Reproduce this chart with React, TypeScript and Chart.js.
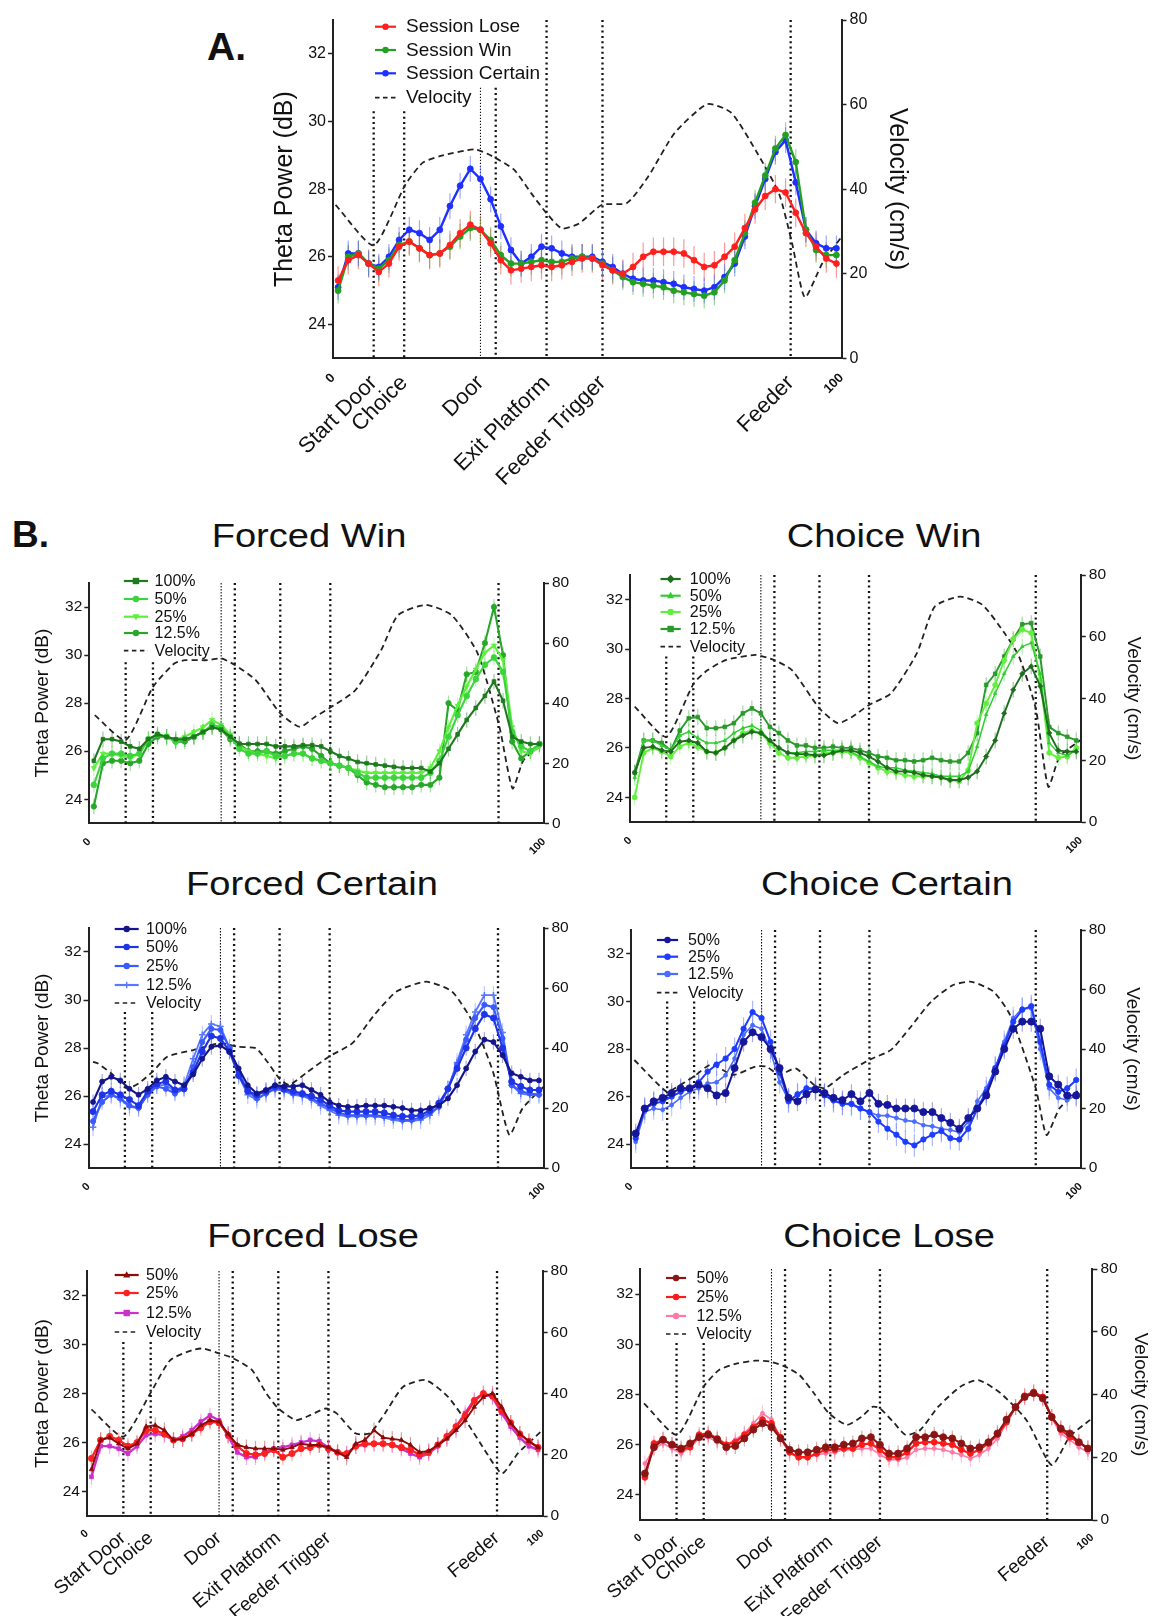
import React, { useEffect, useRef } from "react";
import { Chart, registerables } from "chart.js";

Chart.register(...registerables);

const FONT = '"Liberation Sans", Arial, Helvetica, sans-serif';
Chart.defaults.font.family = FONT;
Chart.defaults.color = "#111";

// Percent of the trial path at which theta power is averaged
const pathPct = [1, 3, 5, 7, 9, 11, 13, 15, 17, 19, 21, 23, 25, 27, 29, 31, 33, 35, 37, 39, 41, 43, 45, 47, 49, 51, 53, 55, 57, 59, 61, 63, 65, 67, 69, 71, 73, 75, 77, 79, 81, 83, 85, 87, 89, 91, 93, 95, 97, 99];

// Maze landmarks along the path (percent)
const landmarkPct = [8, 14, 29, 32, 42, 53, 90];
const landmarkThin = [false, false, true, false, false, false, false];
const landmarkTicks = [0, 8, 14, 29, 42, 53, 90, 100];
const landmarkTickLabels = ["0", "Start Door", "Choice", "Door", "Exit Platform", "Feeder Trigger", "Feeder", "100"];
const bareTicks = [0, 100];
const bareTickLabels = ["0", "100"];

const thetaTicks = [24, 26, 28, 30, 32];
const velocityTicks = [0, 20, 40, 60, 80];

// Upper end (dB) of each landmark line, per panel
const landmarkTopA = [30.3, 30.3, 31.0, 31.0, 33, 33, 33];
const landmarkTopForcedWin = [29.7, 29.7, 33, 33, 33, 33, 33];
const landmarkTopChoiceWin = [29.7, 29.7, 33, 33, 33, 33, 33];
const landmarkTopForcedCertain = [29.5, 29.5, 33, 33, 33, 33, 33];
const landmarkTopChoiceCertain = [30.0, 30.0, 33, 33, 33, 33, 33];
const landmarkTopForcedLose = [30.1, 30.1, 33, 33, 33, 33, 33];
const landmarkTopChoiceLose = [30.05, 30.05, 33, 33, 33, 33, 33];

// ---- A. Session averages (theta power, dB) ----
const sessionLose = [25.3, 25.9, 26.05, 25.8, 25.55, 25.8, 26.3, 26.45, 26.25, 26.05, 26.1, 26.35, 26.7, 26.95, 26.8, 26.4, 25.9, 25.6, 25.65, 25.7, 25.75, 25.7, 25.75, 25.85, 25.95, 25.95, 25.75, 25.6, 25.5, 25.7, 26.0, 26.15, 26.15, 26.15, 26.1, 25.9, 25.7, 25.75, 26.0, 26.3, 26.85, 27.4, 27.8, 28.0, 27.9, 27.3, 26.7, 26.3, 25.95, 25.8];
const sessionWin = [25.0, 26.0, 26.1, 25.8, 25.65, 25.9, 26.35, 26.45, 26.25, 26.05, 26.1, 26.3, 26.6, 26.85, 26.8, 26.5, 26.05, 25.8, 25.8, 25.85, 25.9, 25.85, 25.85, 25.95, 26.0, 25.95, 25.8, 25.6, 25.4, 25.25, 25.2, 25.15, 25.1, 25.0, 24.95, 24.9, 24.85, 24.95, 25.3, 25.9, 26.7, 27.6, 28.4, 29.2, 29.6, 28.8, 26.8, 26.2, 26.05, 26.05];
const sessionCertain = [25.1, 26.1, 26.1, 25.8, 25.7, 26.0, 26.5, 26.8, 26.7, 26.5, 26.8, 27.5, 28.1, 28.6, 28.3, 27.7, 26.9, 26.2, 25.8, 26.0, 26.3, 26.25, 26.1, 26.0, 26.0, 26.0, 25.85, 25.7, 25.5, 25.35, 25.3, 25.3, 25.25, 25.2, 25.1, 25.05, 25.0, 25.1, 25.4, 25.8, 26.6, 27.5, 28.3, 29.1, 29.45, 28.2, 26.8, 26.4, 26.25, 26.25];
const velPctA = [0.5, 8, 14.2, 17.6, 21, 27.9, 31.3, 35.6, 39, 42, 45, 48.4, 52.9, 57.8, 62, 67.2, 73.6, 78.3, 83.4, 87.7, 90.3, 92.8, 96.2, 100];
const velA = [36.3, 26.7, 41, 46.2, 47.8, 49.4, 47.8, 44.6, 39, 34.3, 30.7, 31.9, 36.3, 36.7, 43, 53.3, 60.1, 58.1, 48.6, 39, 27.1, 14.4, 22.4, 28.7];

// ---- Forced Win ----
const forcedWin100 = [25.6, 26.5, 26.5, 26.4, 26.2, 26.1, 26.5, 26.7, 26.6, 26.5, 26.5, 26.6, 26.8, 27.0, 26.9, 26.6, 26.3, 26.3, 26.3, 26.3, 26.2, 26.2, 26.2, 26.25, 26.25, 26.2, 26.0, 25.8, 25.7, 25.55, 25.5, 25.45, 25.4, 25.35, 25.3, 25.3, 25.3, 25.15, 25.5, 26.1, 26.7, 27.3, 27.8, 28.3, 28.9, 28.1, 26.6, 26.4, 26.3, 26.3];
const forcedWin50 = [24.6, 25.7, 25.9, 25.9, 25.8, 25.9, 26.5, 26.7, 26.6, 26.4, 26.5, 26.6, 26.8, 27.1, 27.0, 26.6, 26.1, 25.9, 25.9, 26.0, 25.8, 25.8, 25.9, 25.9, 25.7, 25.6, 25.5, 25.4, 25.3, 25.1, 24.9, 24.9, 24.9, 24.9, 24.9, 24.9, 24.9, 25.1, 25.6, 26.6, 27.5, 28.3, 29.0, 29.6, 29.9, 29.3, 26.8, 26.2, 26.0, 26.3];
const forcedWin25 = [25.3, 25.9, 25.9, 25.8, 25.7, 25.9, 26.5, 26.7, 26.6, 26.5, 26.6, 26.8, 27.0, 27.3, 27.1, 26.7, 26.2, 26.0, 25.9, 25.8, 25.7, 25.8, 25.9, 25.9, 25.7, 25.6, 25.5, 25.4, 25.3, 25.2, 25.1, 25.1, 25.1, 25.1, 25.1, 25.1, 25.1, 25.3, 26.0, 27.0, 27.9, 28.7, 29.4, 30.1, 30.4, 29.8, 27.0, 26.0, 25.9, 26.2];
const forcedWin12 = [23.7, 25.5, 25.6, 25.6, 25.5, 25.6, 26.3, 26.6, 26.6, 26.4, 26.4, 26.6, 26.8, 27.0, 26.9, 26.5, 26.3, 26.0, 26.0, 26.0, 25.9, 26.0, 26.1, 26.2, 26.1, 25.8, 25.5, 25.4, 25.3, 25.0, 24.7, 24.6, 24.5, 24.5, 24.5, 24.5, 24.6, 24.6, 24.9, 28.0, 27.7, 29.2, 29.3, 30.5, 32.0, 30.0, 26.4, 25.7, 26.0, 26.3];
const velPctForcedWin = [1.2, 8, 14, 18.7, 21.1, 26, 29, 32, 36.6, 42, 46.3, 49.6, 53.1, 58.5, 64.2, 67.9, 74, 79.7, 85.4, 90.2, 93.1, 95.5, 100];
const velForcedWin = [36, 27.7, 45.4, 53.2, 54.3, 54.3, 54.9, 52.7, 47.7, 36.6, 32.1, 35.4, 38.6, 44.3, 57.7, 69.3, 72.7, 69.3, 56.6, 32.1, 11.6, 21, 26.6];

// ---- Choice Win ----
const choiceWin100 = [25.0, 26.0, 26.05, 25.9, 25.85, 26.25, 26.3, 26.2, 25.85, 25.8, 26.0, 26.3, 26.5, 26.65, 26.6, 26.3, 26.0, 25.8, 25.75, 25.75, 25.7, 25.7, 25.8, 25.9, 25.9, 25.8, 25.65, 25.45, 25.2, 25.05, 25.05, 25.0, 24.9, 24.85, 24.8, 24.7, 24.7, 24.8, 25.05, 25.65, 26.3, 27.4, 28.35, 29.0, 29.3, 28.5, 26.6, 25.9, 25.85, 25.85];
const choiceWin50 = [24.8, 26.3, 26.3, 26.1, 25.9, 26.5, 26.65, 26.4, 26.2, 26.2, 26.3, 26.6, 26.8, 26.9, 26.7, 26.3, 26.0, 25.8, 25.8, 25.85, 25.85, 25.9, 25.9, 25.9, 25.85, 25.65, 25.45, 25.25, 25.2, 25.2, 25.1, 25.05, 25.0, 24.95, 24.85, 24.85, 24.85, 25.05, 26.05, 27.35, 28.2, 29.0, 29.7, 30.1, 30.25, 29.0, 26.2, 25.8, 25.7, 25.9];
const choiceWin25 = [24.0, 25.8, 26.0, 25.85, 25.65, 26.05, 26.2, 26.05, 25.85, 25.8, 26.0, 26.3, 26.6, 26.7, 26.6, 26.2, 25.8, 25.6, 25.6, 25.65, 25.7, 25.8, 25.8, 25.85, 25.8, 25.6, 25.4, 25.2, 25.05, 25.0, 24.9, 24.85, 24.85, 24.85, 24.8, 24.7, 24.65, 25.1, 27.0, 27.8, 28.55, 29.55, 30.4, 30.8, 30.65, 28.75, 25.8, 25.6, 25.65, 26.0];
const choiceWin12 = [25.0, 26.3, 26.3, 26.2, 25.9, 26.7, 27.2, 27.25, 26.8, 26.8, 26.85, 27.0, 27.4, 27.6, 27.4, 26.85, 26.6, 26.3, 26.1, 26.1, 26.0, 26.0, 26.05, 26.0, 26.0, 25.9, 25.8, 25.65, 25.6, 25.5, 25.5, 25.45, 25.5, 25.6, 25.5, 25.45, 25.45, 25.8, 26.6, 28.55, 29.0, 29.7, 30.4, 31.0, 31.05, 29.7, 26.85, 26.6, 26.45, 26.3];
const velPctChoiceWin = [1, 8, 14.1, 17.2, 21.3, 27.8, 31.9, 35.9, 42, 46.1, 49.3, 53, 57.9, 63.6, 67.6, 73.3, 78.2, 83.1, 86.3, 90, 92.8, 95.3, 100];
const velChoiceWin = [37.4, 27.6, 44.9, 49.2, 52.5, 54.1, 52.5, 49.2, 36.8, 32.0, 34.1, 37.9, 41.7, 54.6, 69.8, 73.0, 70.3, 61.1, 53.6, 36.8, 11.4, 21.2, 26.6];

// ---- Forced Certain ----
const forcedCertain100 = [25.75, 26.6, 26.8, 26.65, 26.3, 26.05, 26.3, 26.65, 26.8, 26.6, 26.45, 26.9, 27.55, 28.05, 28.1, 27.85, 27.15, 26.45, 26.1, 26.25, 26.45, 26.4, 26.4, 26.45, 26.25, 26.05, 25.75, 25.6, 25.55, 25.55, 25.6, 25.6, 25.6, 25.55, 25.5, 25.4, 25.4, 25.5, 25.6, 25.9, 26.45, 27.15, 27.85, 28.35, 28.25, 27.7, 26.95, 26.8, 26.65, 26.65];
const forcedCertain50 = [25.35, 26.05, 26.2, 26.05, 25.85, 25.6, 26.2, 26.5, 26.6, 26.25, 26.3, 27.0, 27.85, 28.5, 28.4, 27.85, 26.85, 26.2, 26.05, 26.2, 26.4, 26.3, 26.2, 26.1, 26.0, 25.85, 25.6, 25.4, 25.35, 25.35, 25.35, 25.35, 25.3, 25.2, 25.15, 25.15, 25.2, 25.4, 25.7, 26.3, 27.15, 28.0, 28.8, 29.4, 29.25, 28.0, 26.6, 26.4, 26.25, 26.25];
const forcedCertain25 = [24.95, 25.75, 26.05, 25.9, 25.6, 25.5, 26.05, 26.4, 26.3, 26.1, 26.3, 27.2, 28.25, 28.8, 28.75, 28.0, 27.0, 26.2, 25.9, 26.1, 26.3, 26.25, 26.1, 26.05, 25.9, 25.7, 25.5, 25.3, 25.2, 25.2, 25.2, 25.2, 25.15, 25.1, 25.0, 25.0, 25.1, 25.3, 25.55, 26.3, 27.3, 28.35, 29.25, 29.8, 29.7, 28.4, 26.45, 26.2, 26.1, 26.05];
const forcedCertain12 = [24.7, 25.95, 26.05, 25.85, 25.55, 25.5, 26.1, 26.45, 26.45, 26.2, 26.45, 27.55, 28.55, 29.0, 28.9, 28.0, 26.85, 26.05, 25.85, 26.1, 26.3, 26.2, 26.05, 26.0, 25.85, 25.6, 25.4, 25.2, 25.15, 25.15, 25.15, 25.15, 25.1, 25.0, 24.95, 24.95, 25.0, 25.2, 25.55, 26.3, 27.4, 28.55, 29.5, 30.2, 30.2, 28.65, 26.45, 26.1, 26.05, 26.05];
const velPctForcedCertain = [1, 2, 5.1, 8.4, 11, 14.1, 17.3, 23, 29, 32.8, 36.8, 39.3, 41.9, 44.1, 48.2, 52.8, 58, 62.8, 67.7, 74.2, 79.9, 84.8, 88.9, 92.5, 95.4, 100];
const velForcedCertain = [35.4, 34.9, 31.4, 26.6, 28.2, 32.1, 37.1, 39.3, 41.6, 40.4, 39.9, 35.4, 29.9, 27.7, 32.1, 37.1, 41.6, 51, 58.8, 62.1, 58.8, 47.7, 32.1, 11, 19.9, 27.1];

// ---- Choice Certain ----
const choiceCertain50 = [24.45, 25.5, 25.8, 25.95, 26.15, 26.35, 26.35, 26.5, 26.35, 26.05, 26.15, 27.2, 28.3, 28.7, 28.5, 28.0, 27.2, 25.95, 25.8, 26.1, 26.3, 26.15, 25.95, 25.85, 26.1, 25.8, 26.15, 25.7, 25.65, 25.5, 25.5, 25.5, 25.35, 25.35, 25.1, 24.9, 24.65, 25.1, 25.5, 26.05, 27.05, 28.0, 28.85, 29.15, 29.15, 28.85, 26.85, 26.5, 26.05, 26.05];
const choiceCertain25 = [24.25, 25.5, 25.7, 25.8, 26.0, 26.2, 26.35, 26.6, 27.05, 27.35, 27.6, 28.0, 28.85, 29.55, 29.3, 28.3, 27.05, 25.8, 26.1, 26.35, 26.35, 26.05, 25.85, 25.7, 25.7, 25.5, 25.35, 24.95, 24.65, 24.4, 24.1, 23.95, 24.2, 24.4, 24.55, 24.25, 24.2, 24.65, 25.5, 26.2, 27.2, 28.15, 29.15, 29.65, 29.8, 28.3, 26.5, 26.2, 26.35, 26.7];
const choiceCertain12 = [24.1, 25.35, 25.5, 25.45, 25.65, 25.95, 26.2, 26.35, 26.55, 26.6, 26.9, 27.6, 28.6, 29.0, 28.85, 27.9, 26.6, 25.85, 26.05, 26.3, 26.3, 26.05, 25.8, 25.7, 25.65, 25.5, 25.35, 25.2, 25.2, 25.1, 25.0, 24.95, 24.8, 24.75, 24.65, 24.6, 24.5, 24.95, 25.8, 26.35, 27.2, 28.3, 29.3, 29.7, 29.7, 28.0, 26.35, 25.95, 25.85, 26.05];
const velPctChoiceCertain = [0.7, 7.8, 9.7, 13.9, 17.8, 22.7, 27.6, 30.1, 32.9, 36.6, 40.7, 43.1, 47.2, 52.9, 57.8, 61.9, 66.7, 71.6, 75.7, 80.6, 84.3, 90, 92.4, 95.3, 100];
const velChoiceCertain = [36.3, 25.7, 26.8, 30.7, 34.8, 31.3, 34.1, 34.1, 31.3, 33.5, 27.9, 26.8, 31.3, 36.3, 39.7, 46.9, 55.9, 61.5, 62.6, 59.3, 51.4, 26.8, 11.1, 20.1, 26.8];

// ---- Forced Lose ----
const forcedLose50 = [24.9, 26.1, 26.2, 25.95, 25.75, 25.95, 26.65, 26.7, 26.5, 26.1, 26.15, 26.35, 26.7, 26.9, 26.85, 26.35, 25.9, 25.8, 25.75, 25.75, 25.75, 25.7, 25.8, 25.95, 25.9, 25.9, 25.8, 25.6, 25.4, 25.95, 26.1, 26.5, 26.2, 26.15, 26.1, 25.9, 25.6, 25.65, 25.9, 26.15, 26.5, 26.9, 27.45, 27.85, 28.0, 27.45, 26.8, 26.35, 26.05, 25.8];
const forcedLose25 = [25.35, 26.1, 26.25, 26.1, 25.85, 26.0, 26.5, 26.5, 26.35, 26.1, 26.15, 26.35, 26.6, 26.85, 26.8, 26.3, 25.85, 25.55, 25.5, 25.55, 25.7, 25.4, 25.55, 25.75, 25.8, 25.9, 25.75, 25.6, 25.55, 25.85, 25.95, 25.95, 25.95, 25.9, 25.8, 25.7, 25.5, 25.6, 25.9, 26.25, 26.65, 27.1, 27.7, 28.0, 27.9, 27.3, 26.8, 26.35, 26.05, 25.8];
const forcedLose12 = [24.6, 25.85, 25.85, 25.75, 25.55, 25.85, 26.3, 26.35, 26.3, 26.1, 26.25, 26.5, 26.85, 27.1, 26.9, 26.25, 25.6, 25.4, 25.4, 25.6, 25.75, 25.8, 25.9, 26.0, 26.1, 26.05, 25.8, 25.6, 25.55, 25.85, 25.9, 25.95, 25.95, 25.9, 25.75, 25.55, 25.4, 25.55, 25.85, 26.2, 26.65, 27.2, 27.75, 28.0, 27.85, 27.2, 26.65, 26.2, 25.85, 25.7];
const velPctForcedLose = [1, 8, 13.9, 18.3, 23.2, 25.6, 29, 32.1, 36.2, 39.4, 42, 45.9, 49.1, 52.4, 54.8, 58.9, 62.1, 65.4, 69.4, 74.3, 79.2, 84, 87.3, 91.1, 94.6, 100];
const velForcedLose = [34.8, 25.9, 40, 50.9, 54.2, 54.7, 53.1, 51.5, 47.7, 40, 35.1, 31.3, 33, 35.1, 33.5, 27, 27, 33.5, 42.2, 44.4, 39, 29.2, 21.5, 13.9, 20.5, 28.1];

// ---- Choice Lose ----
const choiceLose50 = [24.85, 25.9, 26.2, 26.0, 25.85, 26.05, 26.3, 26.4, 26.2, 25.9, 25.95, 26.25, 26.6, 26.85, 26.7, 26.25, 25.8, 25.7, 25.7, 25.8, 25.9, 25.9, 26.0, 26.05, 26.25, 26.3, 26.0, 25.65, 25.65, 25.85, 26.3, 26.3, 26.4, 26.3, 26.25, 26.05, 25.85, 25.9, 26.1, 26.45, 27.0, 27.5, 27.9, 28.05, 27.85, 27.1, 26.65, 26.45, 26.1, 25.85];
const choiceLose25 = [24.7, 26.05, 26.2, 26.0, 25.8, 25.9, 26.4, 26.45, 26.25, 26.0, 26.1, 26.4, 26.7, 27.0, 26.85, 26.3, 25.7, 25.5, 25.5, 25.65, 25.8, 25.8, 25.85, 25.85, 26.0, 26.05, 25.8, 25.5, 25.5, 25.7, 26.05, 26.1, 26.1, 26.05, 26.0, 25.8, 25.65, 25.8, 26.05, 26.4, 26.9, 27.5, 27.95, 28.1, 27.9, 27.1, 26.6, 26.3, 26.1, 25.85];
const choiceLose12 = [25.25, 25.85, 26.05, 25.85, 25.65, 25.9, 26.25, 26.3, 26.1, 26.0, 26.2, 26.45, 26.85, 27.25, 27.0, 26.25, 25.65, 25.5, 25.5, 25.6, 25.65, 25.7, 25.8, 25.8, 25.85, 25.85, 25.6, 25.4, 25.4, 25.5, 25.8, 25.85, 25.85, 25.8, 25.7, 25.6, 25.45, 25.6, 25.85, 26.25, 26.85, 27.5, 27.9, 28.05, 27.85, 27.05, 26.45, 26.2, 25.9, 25.7];
const velPctChoiceLose = [0.8, 8.1, 14, 17.4, 21.4, 25.5, 28.7, 32, 35.2, 38.4, 41.7, 45.7, 48.9, 51.4, 53, 56.2, 58.7, 61.9, 65.9, 70.8, 74.8, 79.7, 85.4, 91, 95, 99.5];
const velChoiceLose = [37.2, 27.1, 42.5, 47.8, 49.9, 50.8, 50.5, 48.9, 46.2, 40.4, 34, 30.3, 32.9, 36.1, 35.6, 30.8, 27.1, 28.7, 36.1, 42.5, 44.6, 40.4, 31.9, 17.5, 26.6, 31.9];

type Series = {
  label: string;
  values: number[];
  color: string;
  err: string;
  marker: string;
  rot?: number;
  radius: number;
  width: number;
  sem: number;
};

type Panel = {
  id: string;
  title?: string;
  titleCx?: number;
  titleBaseline?: number;
  plot: { l: number; r: number; t: number; b: number };
  leftTitleCx?: number;
  rightTitleCx?: number;
  axisTitleSize: number;
  tickSize: number;
  legendSize: number;
  legendX: number[];
  legendRows: number[];
  full: boolean;
  xLabelSize: number;
  xRot: number;
  endTickSize: number;
  xAxisH: number;
  xPad: number;
  series: Series[];
  velPct: number[];
  vel: number[];
  landmarkTop: number[];
};

const s = (label: string, values: number[], color: string, err: string, marker: string, radius: number, width: number, sem: number, rot = 0): Series => ({ label, values, color, err, marker, radius, width, sem, rot });

const panels: Panel[] = [
  {
    id: "A",
    plot: { l: 333, r: 841.5, t: 20, b: 358.3 },
    leftTitleCx: 285, rightTitleCx: 897, axisTitleSize: 25,
    tickSize: 16, legendSize: 19, legendX: [42, 63, 73], legendRows: [6.7, 30, 53.3, 77.7],
    full: true, xLabelSize: 22, xRot: 45, endTickSize: 13, xAxisH: 150, xPad: 4,
    series: [
      s("Session Lose", sessionLose, "#ff1f1f", "rgba(255,70,70,0.55)", "circle", 3, 2.4, 0.42),
      s("Session Win", sessionWin, "#23a023", "rgba(60,175,60,0.5)", "circle", 3, 2.4, 0.38),
      s("Session Certain", sessionCertain, "#1f2fff", "rgba(80,100,255,0.55)", "circle", 3, 2.4, 0.38),
    ],
    velPct: velPctA, vel: velA, landmarkTop: landmarkTopA,
  },
  {
    id: "FW", title: "Forced Win", titleCx: 309, titleBaseline: 546.7,
    plot: { l: 89.3, r: 544, t: 583, b: 823.3 },
    leftTitleCx: 42.5, axisTitleSize: 19,
    tickSize: 15.5, legendSize: 16, legendX: [34.6, 58.7, 65.3], legendRows: [-2, 16, 33.7, 50, 67.7],
    full: false, xLabelSize: 19, xRot: 45, endTickSize: 11, xAxisH: 32, xPad: 4,
    series: [
      s("100%", forcedWin100, "#1f7a1f", "rgba(40,130,40,0.45)", "rect", 2.6, 2.1, 0.32),
      s("50%", forcedWin50, "#3cd43c", "rgba(90,220,90,0.45)", "circle", 2.9, 2.1, 0.32),
      s("25%", forcedWin25, "#5cf03c", "rgba(120,240,90,0.45)", "triangle", 2.9, 2.1, 0.32, 180),
      s("12.5%", forcedWin12, "#28a828", "rgba(60,170,60,0.45)", "circle", 2.7, 2.1, 0.32),
    ],
    velPct: velPctForcedWin, vel: velForcedWin, landmarkTop: landmarkTopForcedWin,
  },
  {
    id: "CW", title: "Choice Win", titleCx: 884, titleBaseline: 546.7,
    plot: { l: 630.2, r: 1080.8, t: 575, b: 822 },
    rightTitleCx: 1133.5, axisTitleSize: 19,
    tickSize: 15.5, legendSize: 16, legendX: [30.3, 50.5, 59.6], legendRows: [4, 20.7, 37, 54, 71.7],
    full: false, xLabelSize: 19, xRot: 45, endTickSize: 11, xAxisH: 32, xPad: 4,
    series: [
      s("100%", choiceWin100, "#1e6e1e", "rgba(40,120,40,0.45)", "rectRot", 2.6, 1.9, 0.32),
      s("50%", choiceWin50, "#33cc33", "rgba(90,210,90,0.45)", "triangle", 2, 1.5, 0.32),
      s("25%", choiceWin25, "#62ee3e", "rgba(120,240,90,0.45)", "circle", 2.5, 1.9, 0.32),
      s("12.5%", choiceWin12, "#2a9a2a", "rgba(60,160,60,0.45)", "rect", 2.6, 1.9, 0.32),
    ],
    velPct: velPctChoiceWin, vel: velChoiceWin, landmarkTop: landmarkTopChoiceWin,
  },
  {
    id: "FC", title: "Forced Certain", titleCx: 311.6, titleBaseline: 895,
    plot: { l: 88.5, r: 543.5, t: 928, b: 1168 },
    leftTitleCx: 43, axisTitleSize: 19,
    tickSize: 15.5, legendSize: 16, legendX: [26.2, 50.2, 57.6], legendRows: [1, 19, 38, 57, 75],
    full: false, xLabelSize: 19, xRot: 45, endTickSize: 11, xAxisH: 32, xPad: 4,
    series: [
      s("100%", forcedCertain100, "#14148c", "rgba(40,40,160,0.4)", "circle", 2.5, 2.1, 0.32),
      s("50%", forcedCertain50, "#1e34e6", "rgba(60,80,235,0.4)", "circle", 3.1, 2.1, 0.32),
      s("25%", forcedCertain25, "#3a5aff", "rgba(90,110,255,0.45)", "circle", 2.6, 2.1, 0.32),
      s("12.5%", forcedCertain12, "#5a78ff", "rgba(110,135,255,0.45)", "cross", 3.3, 1.8, 0.38),
    ],
    velPct: velPctForcedCertain, vel: velForcedCertain, landmarkTop: landmarkTopForcedCertain,
  },
  {
    id: "CC", title: "Choice Certain", titleCx: 887, titleBaseline: 895,
    plot: { l: 631.2, r: 1080.7, t: 930, b: 1168 },
    rightTitleCx: 1132, axisTitleSize: 19,
    tickSize: 15.5, legendSize: 16, legendX: [25.7, 46.9, 56.8], legendRows: [10, 26.7, 44, 62.7],
    full: false, xLabelSize: 19, xRot: 45, endTickSize: 11, xAxisH: 32, xPad: 4,
    series: [
      s("50%", choiceCertain50, "#16169a", "rgba(50,50,170,0.4)", "circle", 3.6, 2, 0.42),
      s("25%", choiceCertain25, "#1e3cff", "rgba(70,95,255,0.45)", "circle", 2.7, 2, 0.48),
      s("12.5%", choiceCertain12, "#4a6cff", "rgba(110,135,255,0.45)", "circle", 2, 1.6, 0.48),
    ],
    velPct: velPctChoiceCertain, vel: velChoiceCertain, landmarkTop: landmarkTopChoiceCertain,
  },
  {
    id: "FL", title: "Forced Lose", titleCx: 312.7, titleBaseline: 1246.7,
    plot: { l: 86.9, r: 542.6, t: 1271, b: 1516 },
    leftTitleCx: 42.5, axisTitleSize: 19,
    tickSize: 15.5, legendSize: 16, legendX: [27.8, 51.8, 59.2], legendRows: [4, 22, 42, 61],
    full: true, xLabelSize: 19, xRot: 40, endTickSize: 11, xAxisH: 100, xPad: 3,
    series: [
      s("50%", forcedLose50, "#8b0a0a", "rgba(150,30,30,0.4)", "triangle", 2.6, 1.9, 0.32),
      s("25%", forcedLose25, "#ff2020", "rgba(255,80,80,0.45)", "circle", 3.1, 2.3, 0.32),
      s("12.5%", forcedLose12, "#cc30cc", "rgba(220,90,220,0.45)", "rect", 2.7, 2.3, 0.32),
    ],
    velPct: velPctForcedLose, vel: velForcedLose, landmarkTop: landmarkTopForcedLose,
  },
  {
    id: "CL", title: "Choice Lose", titleCx: 889, titleBaseline: 1246.7,
    plot: { l: 640.4, r: 1092.4, t: 1269, b: 1520 },
    rightTitleCx: 1140, axisTitleSize: 19,
    tickSize: 15.5, legendSize: 16, legendX: [25.6, 45.7, 56], legendRows: [9, 28, 47, 65],
    full: true, xLabelSize: 19, xRot: 40, endTickSize: 11, xAxisH: 100, xPad: 3,
    series: [
      s("50%", choiceLose50, "#8b1515", "rgba(150,40,40,0.4)", "circle", 3.5, 2.1, 0.32),
      s("25%", choiceLose25, "#ff1a1a", "rgba(255,80,80,0.45)", "circle", 3, 2.3, 0.32),
      s("12.5%", choiceLose12, "#ff7aa8", "rgba(255,140,180,0.5)", "circle", 2, 1.6, 0.32),
    ],
    velPct: velPctChoiceLose, vel: velChoiceLose, landmarkTop: landmarkTopChoiceLose,
  },
];

function geometry(p: Panel) {
  const padTop = 14;
  const off = p.axisTitleSize * 0.6 + 4;
  const wantLeft = p.leftTitleCx !== undefined ? p.leftTitleCx - off : p.plot.l - 40;
  const wantRight = p.rightTitleCx !== undefined ? p.rightTitleCx + off : p.plot.r + 40;
  const left = Math.floor(wantLeft);
  const right = Math.ceil(wantRight);
  const top = Math.floor(p.plot.t - padTop);
  const bottom = Math.ceil(p.plot.b + p.xAxisH);
  return {
    left, top, width: right - left, height: bottom - top,
    leftW: p.plot.l - left, rightW: right - p.plot.r,
    padTop: p.plot.t - top, xAxisH: bottom - p.plot.b,
  };
}

function drawMarker(ctx: CanvasRenderingContext2D, style: string, x: number, y: number, r: number, color: string, rot = 0) {
  ctx.save();
  ctx.fillStyle = color;
  ctx.strokeStyle = color;
  ctx.lineWidth = 1.4;
  ctx.setLineDash([]);
  ctx.beginPath();
  if (style === "rect") {
    ctx.rect(x - r, y - r, 2 * r, 2 * r);
    ctx.fill();
  } else if (style === "rectRot") {
    ctx.moveTo(x, y - r * 1.3); ctx.lineTo(x + r * 1.3, y); ctx.lineTo(x, y + r * 1.3); ctx.lineTo(x - r * 1.3, y); ctx.closePath();
    ctx.fill();
  } else if (style === "triangle") {
    const d = rot === 180 ? -1 : 1;
    ctx.moveTo(x, y - d * r * 1.2); ctx.lineTo(x + r * 1.1, y + d * r * 0.8); ctx.lineTo(x - r * 1.1, y + d * r * 0.8); ctx.closePath();
    ctx.fill();
  } else if (style === "cross") {
    ctx.moveTo(x - r, y); ctx.lineTo(x + r, y); ctx.moveTo(x, y - r); ctx.lineTo(x, y + r);
    ctx.stroke();
  } else {
    ctx.arc(x, y, r, 0, Math.PI * 2);
    ctx.fill();
  }
  ctx.restore();
}

function extrasPlugin(p: Panel) {
  return {
    id: "extras" + p.id,
    beforeDatasetsDraw(chart: any) {
      const { ctx, chartArea, scales } = chart;
      const xs = scales.x;
      const ys = scales.y;
      ctx.save();
      // landmark lines
      landmarkPct.forEach((pct, i) => {
        const px = xs.getPixelForValue(pct);
        const top = ys.getPixelForValue(p.landmarkTop[i]);
        ctx.beginPath();
        ctx.strokeStyle = "#111";
        if (landmarkThin[i]) {
          ctx.lineWidth = 1.1;
          ctx.setLineDash([1.4, 1.6]);
        } else {
          ctx.lineWidth = 2.3;
          ctx.setLineDash([2, 3.3]);
        }
        ctx.moveTo(px, top);
        ctx.lineTo(px, chartArea.bottom);
        ctx.stroke();
      });
      // SEM error bars
      ctx.setLineDash([]);
      chart.data.datasets.forEach((ds: any) => {
        if (!ds.sem) return;
        ctx.strokeStyle = ds.errColor;
        ctx.lineWidth = 1.2;
        ctx.beginPath();
        ds.data.forEach((pt: any) => {
          const px = xs.getPixelForValue(pt.x);
          ctx.moveTo(px, ys.getPixelForValue(pt.y + ds.sem));
          ctx.lineTo(px, ys.getPixelForValue(pt.y - ds.sem));
        });
        ctx.stroke();
      });
      ctx.restore();
    },
    afterDatasetsDraw(chart: any) {
      const { ctx, chartArea } = chart;
      const L = chartArea.left;
      const T = chartArea.top;
      const [x0, x1, tx] = p.legendX;
      const items = [
        ...p.series.map((se) => ({ label: se.label, color: se.color, marker: se.marker, rot: se.rot || 0, dash: false })),
        { label: "Velocity", color: "#222", marker: "", rot: 0, dash: true },
      ];
      items.forEach((it, i) => {
        const y = T + p.legendRows[i];
        ctx.save();
        ctx.strokeStyle = it.color;
        ctx.lineWidth = it.dash ? 1.7 : 2.2;
        ctx.setLineDash(it.dash ? [4.5, 3.5] : []);
        ctx.beginPath();
        ctx.moveTo(L + x0, y);
        ctx.lineTo(L + x1, y);
        ctx.stroke();
        if (it.marker) drawMarker(ctx, it.marker, L + (x0 + x1) / 2, y, 3.2, it.color, it.rot);
        ctx.fillStyle = "#111";
        ctx.font = `${p.legendSize}px ${FONT}`;
        ctx.textBaseline = "middle";
        ctx.textAlign = "left";
        ctx.fillText(it.label, L + tx, y + 0.5);
        ctx.restore();
      });
    },
  };
}

function buildConfig(p: Panel, g: ReturnType<typeof geometry>): any {
  const tickVals = p.full ? landmarkTicks : bareTicks;
  const tickLabels = p.full ? landmarkTickLabels : bareTickLabels;
  const datasets: any[] = p.series.map((se) => ({
    label: se.label,
    data: pathPct.map((x, i) => ({ x, y: se.values[i] })),
    yAxisID: "y",
    borderColor: se.color,
    backgroundColor: se.color,
    pointBackgroundColor: se.color,
    pointBorderColor: se.color,
    pointStyle: se.marker,
    pointRotation: se.rot || 0,
    pointRadius: se.radius,
    pointBorderWidth: se.marker === "cross" ? 1.5 : 0.8,
    borderWidth: se.width,
    tension: 0,
    fill: false,
    sem: se.sem,
    errColor: se.err,
  }));
  datasets.push({
    label: "Velocity",
    data: p.velPct.map((x, i) => ({ x, y: p.vel[i] })),
    yAxisID: "y2",
    borderColor: "#222",
    borderDash: [6, 4],
    borderWidth: 1.8,
    pointRadius: 0,
    tension: 0.2,
    fill: false,
    order: 10,
  });

  const axisBorder = { display: true, color: "#222", width: 2 };
  const tickGrid = { display: true, drawOnChartArea: false, drawTicks: true, tickLength: 5, tickWidth: 1.5, tickColor: "#222" };

  return {
    type: "line",
    data: { datasets },
    options: {
      responsive: false,
      animation: false,
      devicePixelRatio: 1,
      events: [],
      layout: { padding: { top: g.padTop, left: 0, right: 0, bottom: 0 } },
      plugins: { legend: { display: false }, tooltip: { enabled: false }, title: { display: false } },
      scales: {
        x: {
          type: "linear",
          min: 0,
          max: 100,
          afterBuildTicks: (sc: any) => { sc.ticks = tickVals.map((v) => ({ value: v })); },
          afterFit: (sc: any) => { sc.height = g.xAxisH; },
          grid: { display: false },
          border: axisBorder,
          ticks: {
            autoSkip: false,
            minRotation: p.xRot,
            maxRotation: p.xRot,
            padding: p.xPad,
            color: "#111",
            font: (c: any) => {
              const v = c.tick ? c.tick.value : -1;
              return v === 0 || v === 100
                ? { size: p.endTickSize, weight: "bold", family: FONT }
                : { size: p.xLabelSize, family: FONT };
            },
            callback: (_v: any, i: number) => tickLabels[i],
          },
        },
        y: {
          position: "left",
          min: 23,
          max: 33,
          afterBuildTicks: (sc: any) => { sc.ticks = thetaTicks.map((v) => ({ value: v })); },
          afterFit: (sc: any) => { sc.width = g.leftW; },
          grid: tickGrid,
          border: axisBorder,
          ticks: { padding: 2, color: "#111", font: { size: p.tickSize, family: FONT } },
          title: {
            display: p.leftTitleCx !== undefined,
            text: "Theta Power (dB)",
            color: "#111",
            font: { size: p.axisTitleSize, family: FONT },
            padding: { top: 4, bottom: 4 },
          },
        },
        y2: {
          position: "right",
          min: 0,
          max: 80,
          afterBuildTicks: (sc: any) => { sc.ticks = velocityTicks.map((v) => ({ value: v })); },
          afterFit: (sc: any) => { sc.width = g.rightW; },
          grid: tickGrid,
          border: axisBorder,
          ticks: { padding: 3, color: "#111", font: { size: p.tickSize, family: FONT } },
          title: {
            display: p.rightTitleCx !== undefined,
            text: "Velocity (cm/s)",
            color: "#111",
            font: { size: p.axisTitleSize, family: FONT },
            padding: { top: 4, bottom: 4 },
          },
        },
      },
    },
    plugins: [extrasPlugin(p)],
  };
}

function PanelChart({ p }: { p: Panel }) {
  const ref = useRef<HTMLCanvasElement>(null);
  const g = geometry(p);
  useEffect(() => {
    if (!ref.current) return;
    const chart = new Chart(ref.current, buildConfig(p, g));
    return () => chart.destroy();
  }, []);
  return (
    <canvas
      ref={ref}
      width={g.width}
      height={g.height}
      style={{ position: "absolute", left: g.left, top: g.top, width: g.width, height: g.height }}
    />
  );
}

const TITLE_SIZE = 34;

export default function App() {
  return (
    <div
      style={{
        position: "absolute",
        left: 0,
        top: 0,
        width: 1154,
        height: 1616,
        overflow: "hidden",
        background: "#fff",
        fontFamily: FONT,
        color: "#111",
      }}
    >
      {panels.map((p) => (
        <PanelChart key={p.id} p={p} />
      ))}
      <div style={{ position: "absolute", left: 207, top: 27, fontSize: 39, fontWeight: "bold", lineHeight: 1 }}>A.</div>
      <div style={{ position: "absolute", left: 12, top: 515.7, fontSize: 37, fontWeight: "bold", lineHeight: 1 }}>B.</div>
      {panels
        .filter((p) => p.title)
        .map((p) => (
          <div
            key={"t" + p.id}
            style={{
              position: "absolute",
              left: (p.titleCx as number) - 300,
              width: 600,
              top: (p.titleBaseline as number) - 0.8465 * TITLE_SIZE,
              fontSize: TITLE_SIZE,
              lineHeight: 1,
              textAlign: "center",
              transform: "scaleX(1.12)",
              transformOrigin: "50% 50%",
              whiteSpace: "nowrap",
            }}
          >
            {p.title}
          </div>
        ))}
    </div>
  );
}
